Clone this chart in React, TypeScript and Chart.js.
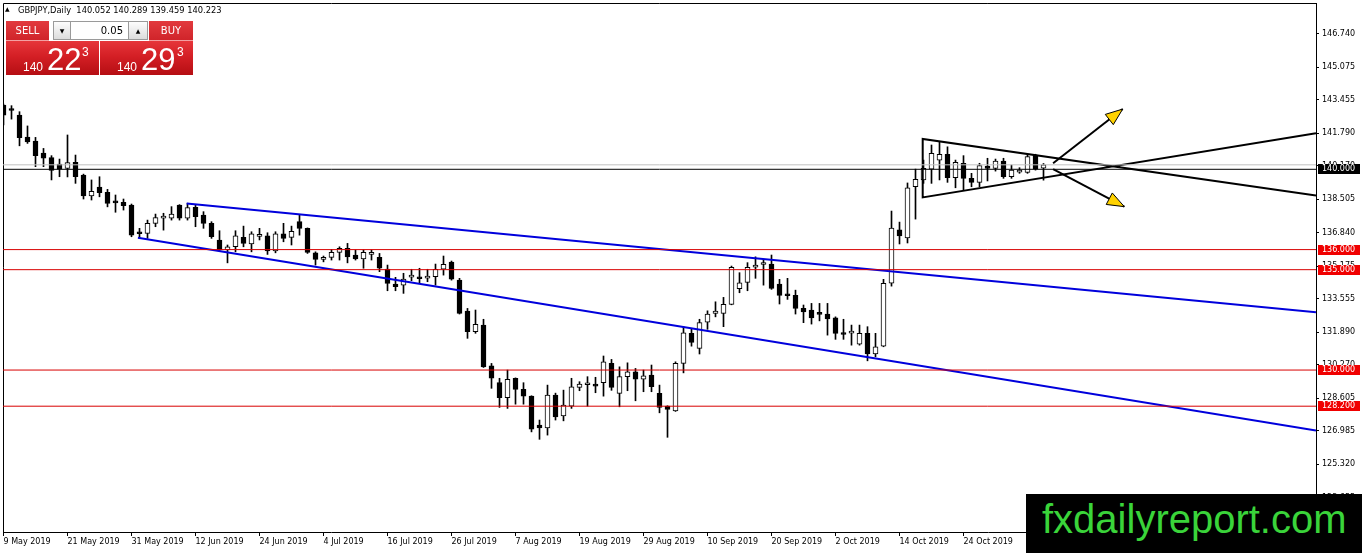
import React, { useEffect, useRef } from 'react';
import { Chart, registerables } from 'chart.js';
Chart.register(...registerables);

// ---- data (GBPJPY daily) ----
const opens = [143.20,142.97,142.70,141.61,141.41,140.81,140.58,140.26,140.05,140.35,139.71,138.68,139.12,138.85,138.37,138.35,138.22,136.83,136.81,137.31,137.57,137.56,138.22,137.56,138.11,137.72,137.31,136.48,135.98,136.14,136.61,136.28,136.66,136.68,135.94,136.78,136.61,137.39,137.06,135.84,135.51,135.61,135.86,136.06,135.73,135.54,135.76,135.61,135.03,134.28,134.23,134.63,134.59,134.58,134.65,135.03,135.38,134.48,132.94,131.91,132.24,130.21,129.37,128.62,129.59,129.04,128.70,127.26,127.12,128.75,127.72,128.20,129.14,129.27,129.30,129.37,130.33,128.84,129.67,129.91,129.54,129.75,128.84,128.20,127.96,130.33,131.83,131.08,132.38,132.82,132.82,133.27,134.05,134.37,135.12,135.26,135.28,134.28,133.74,133.72,133.07,132.99,132.81,132.79,132.60,131.81,131.84,131.29,131.83,130.80,131.19,134.33,136.98,136.58,139.13,139.47,140.01,140.46,140.75,139.58,140.30,139.55,139.35,140.16,140.05,140.41,139.63,139.86,139.85,140.71,140.052];
const highs = [143.25,143.17,142.87,142.16,141.59,141.04,140.68,140.51,141.71,140.71,139.76,139.47,139.63,139.00,138.72,138.52,138.27,137.06,137.47,137.77,137.81,138.14,138.24,138.31,138.22,137.89,137.39,136.94,136.23,136.94,137.17,136.89,137.06,136.84,136.89,137.31,137.17,137.72,137.08,135.89,135.68,136.01,136.14,136.31,135.98,135.98,135.98,135.81,135.23,134.62,134.82,135.02,135.07,135.02,135.28,135.68,135.43,134.57,133.07,132.99,132.53,130.33,129.59,130.00,129.61,129.37,128.72,127.51,129.25,128.85,129.00,129.59,129.42,129.67,129.64,130.70,130.53,130.16,130.36,130.08,130.00,130.25,129.25,128.22,130.41,132.16,132.08,132.53,132.95,133.40,133.62,135.18,134.85,135.35,135.64,135.48,135.73,134.52,134.57,133.98,133.24,133.32,133.32,133.32,132.65,132.53,132.24,132.24,132.16,131.83,134.52,137.92,137.37,139.32,140.01,140.46,141.21,141.37,141.12,140.46,140.68,139.80,140.30,140.55,140.51,140.55,140.21,140.08,140.71,140.75,140.289];
const lows = [142.21,142.50,141.17,141.29,140.13,140.13,139.47,139.63,139.62,139.30,138.52,138.47,138.63,138.13,137.86,137.97,136.64,136.56,136.56,137.14,136.97,137.47,137.47,137.47,137.14,137.06,136.56,135.94,135.34,135.89,136.14,135.89,136.48,135.76,135.84,136.39,136.23,136.72,135.81,135.23,135.39,135.48,135.48,135.34,135.48,135.07,135.48,134.90,133.95,133.95,133.82,134.45,134.32,134.40,134.23,134.73,134.48,132.79,131.58,131.83,130.13,129.09,128.14,128.09,128.30,128.30,126.92,126.55,126.76,127.51,127.47,128.09,128.97,128.20,128.87,128.70,128.99,128.17,128.97,128.47,128.92,128.92,127.87,126.65,127.94,129.86,131.19,130.80,132.03,132.65,132.16,133.25,133.85,133.95,134.57,134.23,134.02,133.29,133.52,132.79,132.36,132.29,132.45,131.74,131.53,131.53,131.24,131.24,130.46,130.66,131.16,134.18,136.28,136.33,137.52,139.30,139.30,139.47,139.35,139.08,138.97,139.13,139.13,139.42,139.91,139.55,139.55,139.80,139.80,139.96,139.459];
const closes = [142.70,142.93,141.57,141.37,140.68,140.55,139.95,140.01,140.33,139.63,138.68,138.90,138.83,138.30,138.33,138.19,136.72,136.79,137.31,137.59,137.61,137.77,137.56,138.09,137.64,137.31,136.64,135.98,136.14,136.68,136.31,136.78,136.70,135.94,136.78,136.56,136.91,137.06,135.86,135.51,135.61,135.86,136.06,135.64,135.54,135.86,135.80,135.07,134.32,134.15,134.53,134.67,134.55,134.62,135.02,135.27,134.53,132.82,131.91,132.28,130.16,129.59,128.62,129.54,129.04,128.70,127.06,127.12,128.75,127.67,128.25,129.17,129.30,129.31,129.20,130.41,129.14,129.67,129.91,129.54,129.71,129.17,128.14,128.04,130.33,131.86,131.38,132.36,132.79,132.94,133.27,135.12,134.35,135.12,135.23,135.30,134.07,133.72,133.70,133.07,132.90,132.60,132.77,132.55,131.83,131.77,131.88,131.83,130.80,131.16,134.32,137.07,136.68,139.08,139.50,140.05,140.80,140.75,139.58,140.35,139.55,139.35,140.18,140.05,140.41,139.63,139.96,139.90,140.63,140.01,140.223];

const dateTicks = ['9 May 2019','21 May 2019','31 May 2019','12 Jun 2019','24 Jun 2019','4 Jul 2019','16 Jul 2019','26 Jul 2019','7 Aug 2019','19 Aug 2019','29 Aug 2019','10 Sep 2019','20 Sep 2019','2 Oct 2019','14 Oct 2019','24 Oct 2019'];
const priceTicks = [146.740,145.075,143.455,141.790,140.170,138.505,136.840,135.175,133.555,131.890,130.270,128.605,126.985,125.320,123.655];

const redLevels = [136.0, 135.0, 130.0, 128.2];
const blackLevel = 140.0;
const bidPrice = 140.223;

const channelUpper = [{ x: 22.9, y: 138.30 }, { x: 164.06, y: 132.88 }];
const channelLower = [{ x: 16.8, y: 136.59 }, { x: 164.06, y: 126.99 }];
const triangle = [{ x: 164.06, y: 138.69 }, { x: 114.9, y: 141.51 }, { x: 114.9, y: 138.60 }, { x: 164.06, y: 141.80 }];
const arrowUp = [{ x: 131.2, y: 140.30 }, { x: 139.9, y: 143.00 }];
const arrowDown = [{ x: 131.2, y: 140.01 }, { x: 140.1, y: 138.14 }];

const X_MIN = -0.0625;
const X_MAX = 164.0625;
const Y_MIN = 121.933;
const Y_MAX = 148.284;

const FONT = '"DejaVu Sans", Verdana, sans-serif';
const SANS = '"Liberation Sans", Arial, sans-serif';

const framePlugin = {
  id: 'frame',
  beforeDatasetsDraw(chart: any) {
    const { ctx, chartArea } = chart;
    ctx.save();
    ctx.strokeStyle = '#000';
    ctx.lineWidth = 1;
    ctx.beginPath();
    ctx.moveTo(chartArea.left + 0.5, chartArea.bottom);
    ctx.lineTo(chartArea.left + 0.5, chartArea.top + 0.5);
    ctx.lineTo(chartArea.right, chartArea.top + 0.5);
    ctx.stroke();
    ctx.restore();
  },
};

const arrowHeads = {
  id: 'arrowHeads',
  afterDatasetsDraw(chart: any) {
    const { ctx, scales } = chart;
    ctx.save();
    [arrowUp, arrowDown].forEach((a) => {
      const x0 = scales.x.getPixelForValue(a[0].x);
      const y0 = scales.y.getPixelForValue(a[0].y);
      const x1 = scales.x.getPixelForValue(a[1].x);
      const y1 = scales.y.getPixelForValue(a[1].y);
      const ang = Math.atan2(y1 - y0, x1 - x0);
      const len = 17;
      const hw = 6.5;
      const bx = x1 - Math.cos(ang) * len;
      const by = y1 - Math.sin(ang) * len;
      ctx.beginPath();
      ctx.moveTo(x1, y1);
      ctx.lineTo(bx + Math.sin(ang) * hw, by - Math.cos(ang) * hw);
      ctx.lineTo(bx - Math.sin(ang) * hw, by + Math.cos(ang) * hw);
      ctx.closePath();
      ctx.fillStyle = '#ffd200';
      ctx.fill();
      ctx.strokeStyle = '#000';
      ctx.lineWidth = 1;
      ctx.stroke();
    });
    ctx.restore();
  },
};

const levelBoxes = {
  id: 'levelBoxes',
  afterDraw(chart: any) {
    const { ctx, scales, chartArea } = chart;
    ctx.save();
    ctx.font = `8px ${FONT}`;
    ctx.textBaseline = 'middle';
    ctx.textAlign = 'left';
    const draw = (v: number, bg: string) => {
      const py = Math.round(scales.y.getPixelForValue(v));
      ctx.fillStyle = bg;
      ctx.fillRect(chartArea.right + 2, py - 5, 42, 10);
      ctx.fillStyle = '#fff';
      ctx.fillText(v.toFixed(3), chartArea.right + 6, py);
    };
    redLevels.forEach((v) => draw(v, '#f00000'));
    draw(blackLevel, '#000000');
    ctx.restore();
  },
};

const hLine = (v: number, color: string) => ({
  type: 'line' as const,
  data: [{ x: X_MIN, y: v }, { x: X_MAX, y: v }],
  borderColor: color,
  borderWidth: 1,
  pointRadius: 0,
  tension: 0,
  fill: false,
  order: 1,
});

const segLine = (pts: { x: number; y: number }[], color: string, w: number) => ({
  type: 'line' as const,
  data: pts,
  borderColor: color,
  borderWidth: w,
  pointRadius: 0,
  tension: 0,
  fill: false,
  order: 1,
});

export default function App() {
  const canvasRef = useRef<HTMLCanvasElement | null>(null);

  useEffect(() => {
    document.body.style.margin = '0';
    const canvas = canvasRef.current;
    if (!canvas) return;
    const idx = opens.map((_, i) => i);
    const chart = new Chart(canvas, {
      type: 'bar',
      data: {
        datasets: [
          {
            type: 'bar',
            data: idx.map((i) => ({ x: i, y: [lows[i], highs[i]] })) as any,
            backgroundColor: '#000',
            borderWidth: 0,
            grouped: false,
            categoryPercentage: 1,
            barPercentage: 1,
            maxBarThickness: 1,
            order: 3,
          } as any,
          {
            type: 'bar',
            data: idx.map((i) => ({ x: i, y: [opens[i], closes[i]] })) as any,
            backgroundColor: idx.map((i) => (closes[i] >= opens[i] ? '#ffffff' : '#000000')),
            borderColor: '#000',
            borderWidth: 1,
            borderSkipped: false,
            grouped: false,
            categoryPercentage: 1,
            barPercentage: 1,
            maxBarThickness: 5,
            minBarLength: 2,
            order: 2,
          } as any,
          hLine(bidPrice, '#c0c0c0'),
          hLine(blackLevel, '#000000'),
          ...redLevels.map((v) => hLine(v, '#d80000')),
          segLine(channelUpper, '#0000dc', 2),
          segLine(channelLower, '#0000dc', 2),
          segLine(triangle, '#000000', 2),
          segLine(arrowUp, '#000000', 2),
          segLine(arrowDown, '#000000', 2),
        ] as any,
      },
      options: {
        animation: false,
        responsive: false,
        maintainAspectRatio: false,
        events: [],
        layout: { padding: { left: 3, top: 3, right: 0, bottom: 0 } },
        plugins: { legend: { display: false }, tooltip: { enabled: false } },
        scales: {
          x: {
            type: 'linear',
            min: X_MIN,
            max: X_MAX,
            offset: false,
            position: 'bottom',
            afterBuildTicks: (s: any) => {
              s.ticks = dateTicks.map((_, k) => ({ value: k * 8 }));
            },
            afterFit: (s: any) => {
              s.height = 21;
              s.paddingLeft = 0;
              s.paddingRight = 0;
            },
            ticks: {
              autoSkip: false,
              maxRotation: 0,
              minRotation: 0,
              align: 'start',
              padding: 1,
              color: '#000',
              font: { family: FONT, size: 8 },
              callback: (_v: any, i: number) => dateTicks[i] ?? '',
            },
            grid: { display: true, drawOnChartArea: false, drawTicks: true, tickLength: 4, color: '#000', offset: false },
            border: { display: true, color: '#000', width: 1 },
          } as any,
          y: {
            type: 'linear',
            position: 'right',
            min: Y_MIN,
            max: Y_MAX,
            beginAtZero: false,
            afterBuildTicks: (s: any) => {
              s.ticks = priceTicks.map((v) => ({ value: v }));
            },
            afterFit: (s: any) => {
              s.width = 46;
              s.paddingTop = 0;
              s.paddingBottom = 0;
            },
            ticks: {
              autoSkip: false,
              padding: 3,
              color: '#000',
              font: { family: FONT, size: 8 },
              callback: (v: any) => Number(v).toFixed(3),
            },
            grid: { display: true, drawOnChartArea: false, drawTicks: true, tickLength: 3, color: '#000' },
            border: { display: true, color: '#000', width: 1 },
          } as any,
        },
      } as any,
      plugins: [framePlugin, arrowHeads, levelBoxes],
    });
    return () => chart.destroy();
  }, []);

  const red = 'linear-gradient(to bottom, #e6353a 0%, #d41f25 45%, #b50e13 100%)';
  const btnRed = 'linear-gradient(to bottom, #e23a3e 0%, #d0242a 100%)';
  const grayBtn = 'linear-gradient(to bottom, #fdfdfd 0%, #dcdcdc 100%)';
  const abs = (l: number, t: number, w: number, h: number): React.CSSProperties => ({
    position: 'absolute', left: l, top: t, width: w, height: h, boxSizing: 'border-box',
  });

  return (
    <div style={{ position: 'relative', width: 1362, height: 553, overflow: 'hidden', background: '#fff' }}>
      <canvas ref={canvasRef} width={1362} height={553} style={{ position: 'absolute', left: 0, top: 0, width: 1362, height: 553 }} />

      {/* header */}
      <div style={{ position: 'absolute', left: 5, top: 6, fontFamily: FONT, fontSize: 6, lineHeight: '6px', color: '#000' }}>▲</div>
      <div style={{ position: 'absolute', left: 18, top: 6, fontFamily: FONT, fontSize: 8.3, lineHeight: '8.3px', color: '#000', whiteSpace: 'pre' }}>
        {'GBPJPY,Daily  140.052 140.289 139.459 140.223'}
      </div>

      {/* one-click trading panel */}
      <div style={{ ...abs(6, 21, 43, 20), background: btnRed, color: '#fff', fontFamily: FONT, fontSize: 10, lineHeight: '19px', textAlign: 'center', borderBottom: '1px solid #f3a0a2' }}>SELL</div>
      <div style={{ ...abs(53, 21, 18, 19), background: grayBtn, border: '1px solid #9a9a9a', fontFamily: FONT, fontSize: 6, lineHeight: '17px', textAlign: 'center', color: '#000' }}>▼</div>
      <div style={{ ...abs(71, 21, 57, 19), background: '#fff', borderTop: '1px solid #9a9a9a', borderBottom: '1px solid #9a9a9a', fontFamily: FONT, fontSize: 10, lineHeight: '17px', textAlign: 'right', paddingRight: 5, color: '#000' }}>0.05</div>
      <div style={{ ...abs(128, 21, 20, 19), background: grayBtn, border: '1px solid #9a9a9a', fontFamily: FONT, fontSize: 6, lineHeight: '17px', textAlign: 'center', color: '#000' }}>▲</div>
      <div style={{ ...abs(149, 21, 44, 20), background: btnRed, color: '#fff', fontFamily: FONT, fontSize: 10, lineHeight: '19px', textAlign: 'center', borderBottom: '1px solid #f3a0a2' }}>BUY</div>

      <div style={{ ...abs(6, 41, 93, 34), background: red, color: '#fff', fontFamily: SANS }}>
        <span style={{ position: 'absolute', left: 17, top: 20, fontSize: 12, lineHeight: '12px' }}>140</span>
        <span style={{ position: 'absolute', left: 41, top: 3, fontSize: 31, lineHeight: '31px' }}>22</span>
        <span style={{ position: 'absolute', left: 76, top: 5, fontSize: 12, lineHeight: '12px' }}>3</span>
      </div>
      <div style={{ ...abs(100, 41, 93, 34), background: red, color: '#fff', fontFamily: SANS }}>
        <span style={{ position: 'absolute', left: 17, top: 20, fontSize: 12, lineHeight: '12px' }}>140</span>
        <span style={{ position: 'absolute', left: 41, top: 3, fontSize: 31, lineHeight: '31px' }}>29</span>
        <span style={{ position: 'absolute', left: 77, top: 5, fontSize: 12, lineHeight: '12px' }}>3</span>
      </div>

      {/* watermark */}
      <div style={{ ...abs(1026, 494, 336, 59), background: '#000' }}>
        <span style={{ position: 'absolute', left: 16, top: 5, fontFamily: SANS, fontSize: 40, lineHeight: '40px', color: '#3ad43a', whiteSpace: 'pre' }}>fxdailyreport.com</span>
      </div>
    </div>
  );
}
